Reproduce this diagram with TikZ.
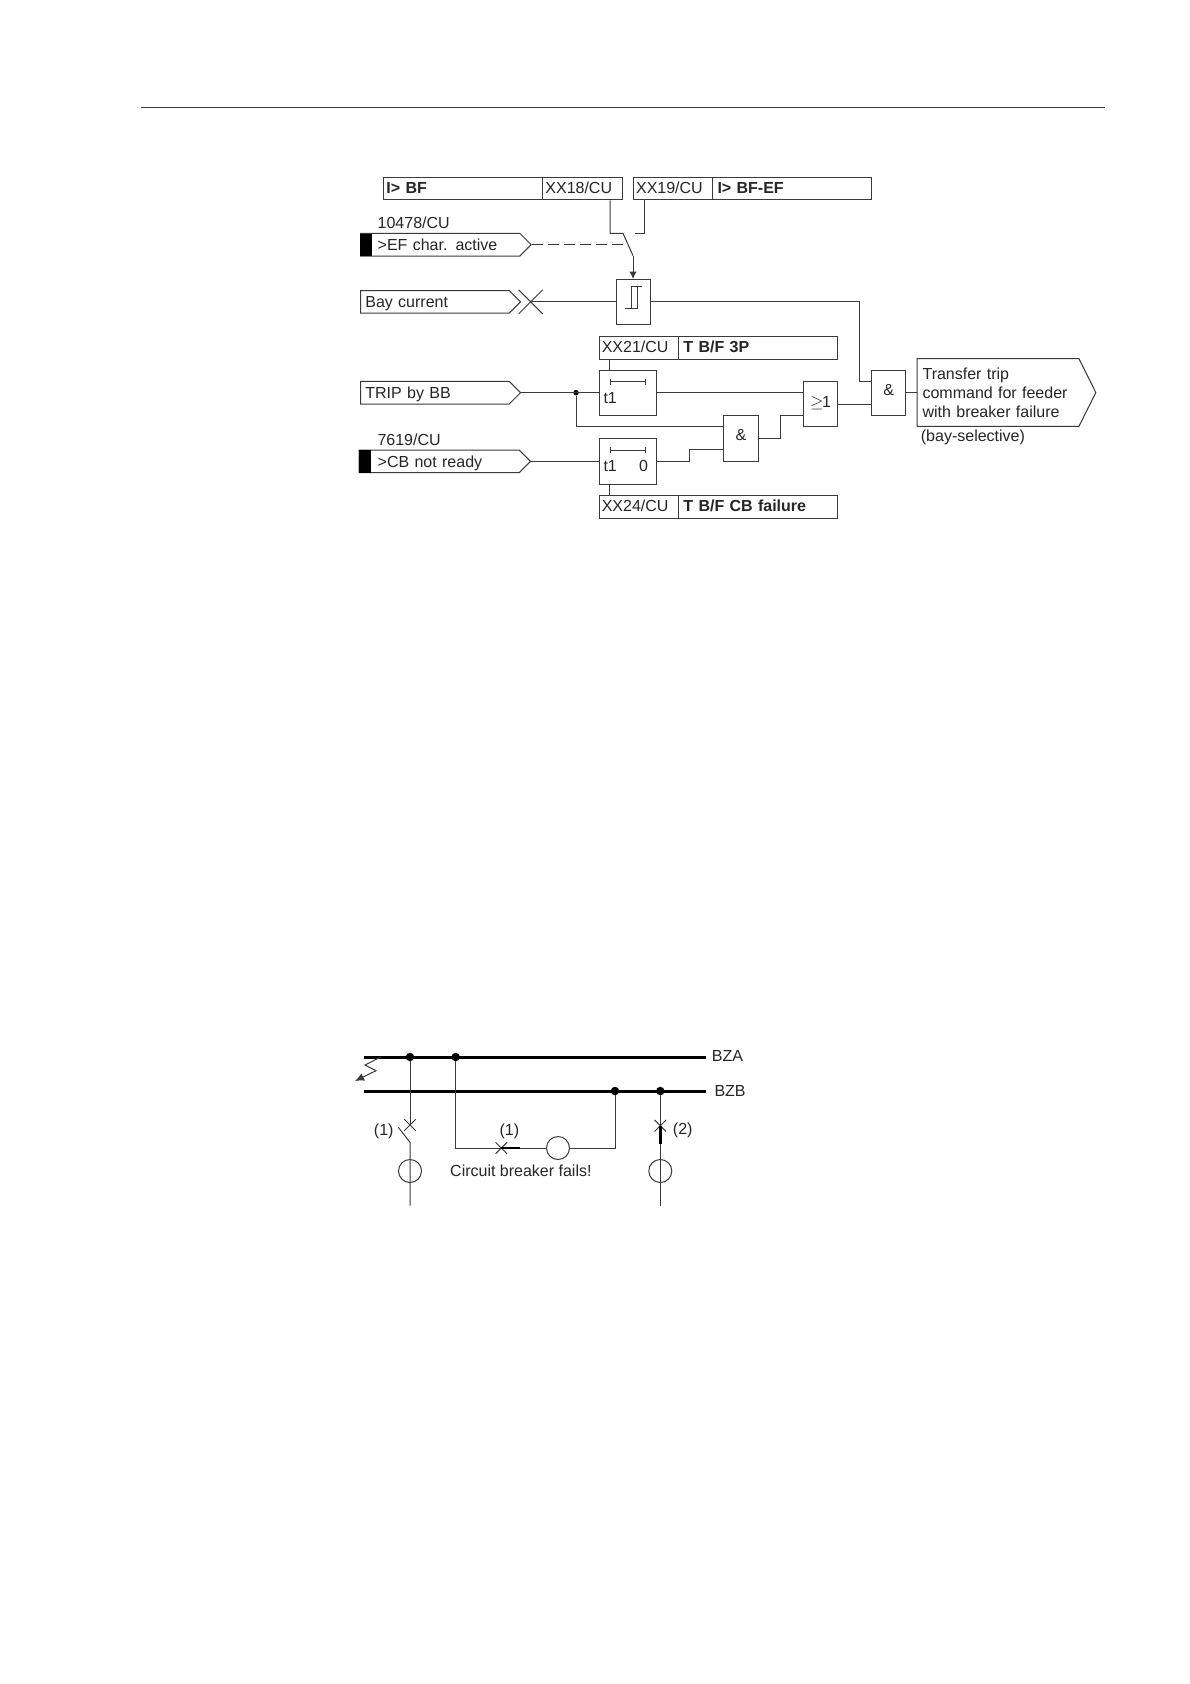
\documentclass[tikz,border=0pt]{standalone}
\usepackage{fontspec}
\setmainfont{Liberation Sans}
\usetikzlibrary{arrows.meta, calc, shapes.misc, shapes.symbols}
\definecolor{wireGray}{HTML}{3A3A3A}
\tikzset{
  base/.style={font=\fontsize{16}{19}\selectfont, text=black!85},
  wire/.style={draw=wireGray, line width=1pt},
  busbar/.style={draw=black, line width=3pt},
  flagbox/.style={base, wire, anchor=north west, minimum height=22.8, inner xsep=2.6, inner ysep=0, align=left, text height=12, text depth=3},
  gatebox/.style={base, wire, anchor=north west, inner sep=0},
  insig/.style={base, wire, signal, signal to=east, anchor=west, inner sep=0, align=left, minimum height=22.6},
  sigline/.style={text height=12.6, text depth=0.6},
  blackflag/.style={fill=black, anchor=north west, inner sep=0, minimum height=22.6, minimum width=11.8},
  caption/.style={base, anchor=west, inner sep=0},
  joint/.style={circle, fill=black, inner sep=0, minimum size=5.5},
  busdot/.style={circle, fill=black, inner sep=0, minimum size=8.5},
  ctcircle/.style={circle, wire, inner sep=0, minimum size=23},
  breaker/.style={cross out, wire, inner sep=0, minimum size=10.5},
  timebar/.style={wire, {Bar[width=6pt]}-{Bar[width=6pt]}},
}
\begin{document}
\begin{tikzpicture}[x=1pt, y=-1pt]
  \useasboundingbox (0,0) rectangle (1190,1684);
  \fill[white] (0,0) rectangle (1190,1684);
  \coordinate (rulea) at (141,107.4);
  \coordinate (ruleb) at (1105,107.4);
  \draw[wire] (rulea) -- (ruleb);

  % settings
  \node[flagbox, text width=153.4] (bf) at (383.3,176.6) {\textbf{I> BF}};
  \node[flagbox, text width=74.2] (xx18) at (542.3,176.6) {XX18/CU};
  \node[flagbox, text width=74.2] (xx19) at (633,176.6) {XX19/CU};
  \node[flagbox, text width=153.4] (bfef) at (712.4,176.6) {\hspace*{2pt}\textbf{I> BF-EF}};
  \node[flagbox, text width=74.4] (xx21) at (598.7,335.8) {XX21/CU};
  \node[flagbox, text width=153.8] (t3p) at (678.3,335.8) {\hspace*{2pt}\textbf{T B/F 3P}};
  \node[flagbox, text width=74.4] (xx24) at (598.7,495.2) {XX24/CU};
  \node[flagbox, text width=153.8] (tcb) at (678.3,495.2) {\hspace*{2pt}\textbf{T B/F CB failure}};

  % inputs
  \node[caption] (efno) at (377.5,222.7) {10478/CU};
  \node[insig, sigline, minimum width=170.7, signal pointer angle=90, text width=140] (ef) at (360,244.7) {\hspace*{7.5pt}>EF char. active};
  \node[blackflag] (efblk) at (360,233.4) {};
  \node[insig, sigline, minimum width=160, signal pointer angle=90, text width=139] (bay) at (360,301.8) {Bay current};
  \node[insig, sigline, minimum width=160, signal pointer angle=90, text width=139] (trip) at (360,392.7) {TRIP by BB};
  \node[caption] (cbno) at (377.3,439.3) {7619/CU};
  \node[insig, sigline, minimum width=171.3, signal pointer angle=90, text width=140] (cb) at (358.7,461.3) {\hspace*{8.5pt}>CB not ready};
  \node[blackflag] (cbblk) at (358.7,450) {};

  % logic
  \node[gatebox, minimum width=34, minimum height=45.4] (hyst) at (615.7,279) {};
  \node[gatebox, minimum width=57, minimum height=45] (tmra) at (598.7,370.3) {};
  \node[gatebox, minimum width=57, minimum height=45.4] (tmrb) at (598.7,438.3) {};
  \node[gatebox, minimum width=34.4, minimum height=45.7] (anda) at (723.3,415.3) {\raisebox{6.5pt}{\&}};
  \node[gatebox, minimum width=34.3, minimum height=45] (orb) at (803,381.3) {\raisebox{4pt}{$\geq$\kern-1.5pt 1}};
  \node[gatebox, minimum width=34.3, minimum height=45.3] (andb) at (871,370) {\raisebox{6pt}{\&}};
  \node[insig, minimum width=178.6, minimum height=67.6, signal pointer angle=127, text width=151] (out) at (916.7,392.5) {Transfer trip\\command for feeder\\with breaker failure};
  \node[caption] (baysel) at (920.7,437.5) {(bay-selective)};

  \node[caption] (ta) at (603.3,397.7) {t1};
  \node[caption] (tb) at (603.3,466) {t1};
  \node[caption] (tz) at (638.8,466) {0};
  \coordinate (tmraL) at (609.7,381.7);
  \coordinate (tmraR) at (645.7,381.7);
  \coordinate (tmrbL) at (609.7,450);
  \coordinate (tmrbR) at (645.7,450);
  \draw[timebar] (tmraL) -- (tmraR);
  \draw[timebar] (tmrbL) -- (tmrbR);

  % hysteresis mark
  \draw[wire, line width=0.8pt] (625.3,308.3) -- (637.3,308.3) -- (637.3,286) -- (642,286);
  \draw[wire, line width=0.8pt] (631.7,308.3) -- (631.7,286) -- (637.3,286);

  % selector
  \coordinate (sela) at (610,233.3);
  \coordinate (selb) at (623,233.3);
  \coordinate (selc) at (634.5,233.3);
  \coordinate (seld) at (644.3,233.3);
  \coordinate (sele) at (633,255.7);
  \coordinate (self) at (627.8,244.7);
  \draw[wire] (xx18.south -| sela) -- (sela) -- (selb) -- (sele);
  \draw[wire] (xx19.south -| seld) -- (seld) -- (selc);
  \draw[wire, -{Latex[length=7.5pt,width=7.5pt]}] (sele) -- (sele |- hyst.north);
  \draw[wire, dash pattern=on 11pt off 5pt] (ef.east) -- (self);

  % wires
  \node[cross out, wire, inner sep=0, minimum size=23] (baycross) at (530.7,301.8) {};
  \draw[wire] (baycross.center) -- (hyst.west |- baycross);
  \coordinate (tra) at (859.3,301.8);
  \draw[wire] (hyst.east |- tra) -- (tra) |- (andb.west |- 0,381.3);
  \node[joint] (tripdot) at (576,392.7) {};
  \draw[wire] (trip.east) -- (tmra.west |- trip);
  \draw[wire] (tmra.east |- trip) -- (orb.west |- trip);
  \draw[wire] (tripdot) |- (anda.west |- 0,426.7);
  \draw[wire] (cb.east) -- (tmrb.west |- cb);
  \coordinate (stpa) at (689.7,461);
  \draw[wire] (tmrb.east |- stpa) -- (stpa) |- (anda.west |- 0,449.7);
  \coordinate (stpb) at (780.7,438.3);
  \draw[wire] (anda.east |- stpb) -- (stpb) |- (orb.west |- 0,415.3);
  \draw[wire] (orb.east |- 0,404) -- (andb.west |- 0,404);
  \draw[wire] (andb.east |- out) -- (out.west);
  \draw[wire] (tmraL |- xx21.south) -- (tmraL |- tmra.north);
  \draw[wire] (tmrbL |- tmrb.south) -- (tmrbL |- xx24.north);

  % busbars
  \coordinate (bzaL) at (364,1057);
  \coordinate (bzaR) at (706,1057);
  \coordinate (bzbL) at (364,1091);
  \coordinate (bzbR) at (706,1091);
  \node[caption] (bza) at (711.7,1056) {BZA};
  \node[caption] (bzb) at (714.3,1090.5) {BZB};

  \node[busdot] (da) at (410,1057) {};
  \node[busdot] (db) at (455.7,1057) {};
  \node[busdot] (dc) at (615,1091) {};
  \node[busdot] (dd) at (660.3,1091) {};
  \node[breaker] (bra) at (410,1125) {};
  \node[breaker] (brb) at (501.3,1148) {};
  \node[breaker] (brc) at (660.3,1125.7) {};
  \node[ctcircle] (cta) at (410,1171) {};
  \node[ctcircle] (ctb) at (558,1148) {};
  \node[ctcircle] (ctc) at (660.3,1171) {};
  \coordinate (enda) at (410,1205.7);
  \coordinate (endc) at (660.3,1205.7);
  \coordinate (bladea) at (398.3,1127.3);
  \coordinate (bladeb) at (410,1142.3);
  \coordinate (bend) at (455.7,1148);
  \coordinate (bendr) at (615,1148);
  \coordinate (stuba) at (520,1148);
  \coordinate (stubc) at (660.3,1144);

  \draw[busbar] (bzaL) -- (bzaR);
  \draw[busbar] (bzbL) -- (bzbR);
  \draw[wire] (da) -- (bra.center);
  \draw[wire] (bladea) -- (bladeb) -- (enda);
  \draw[wire] (db) -- (bend) -- (brb.center);
  \draw[wire] (ctb.east) -- (bendr) -- (dc);
  \draw[wire] (stuba) -- (ctb.west);
  \draw[line width=2.6pt, draw=black] (brb.center) -- (stuba);
  \draw[wire] (dd) -- (endc);
  \draw[line width=2.6pt, draw=black] (brc.center) -- (stubc);
  \draw[wire, -{Latex[length=9pt,width=8pt]}] (380.7,1057) -- (365,1065) -- (376,1070.7) -- (355,1081);

  \node[base, inner sep=0] (la) at (383.7,1131) {(1)};
  \node[base, inner sep=0] (lb) at (509.3,1131) {(1)};
  \node[base, inner sep=0] (lc) at (682.7,1130.7) {(2)};
  \node[caption] (fails) at (450,1171) {Circuit breaker fails!};
\end{tikzpicture}
\end{document}
